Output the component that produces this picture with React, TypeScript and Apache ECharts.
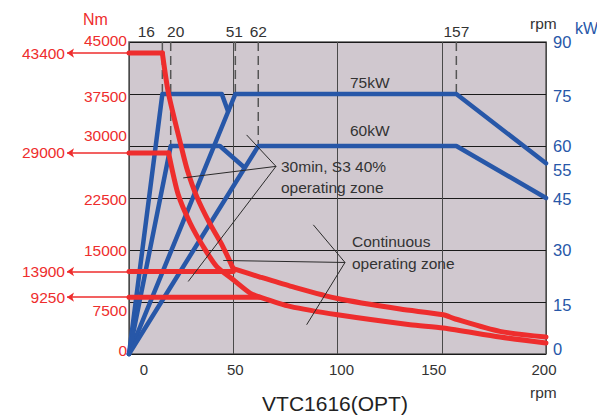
import React, { useEffect, useRef } from "react";
import * as echarts from "echarts";

// ---------- data ----------
const rpmTicks = [0, 50, 100, 150, 200];
const topRpmMarks = [16, 20, 51, 62, 157];
const nmTicks = [0, 7500, 15000, 22500, 30000, 37500, 45000];
const kwTicks = [0, 15, 30, 45, 55, 60, 75, 90];

// torque curves [rpm, Nm]
const s3Torque: number[][] = [
  [0, 43400], [16, 43400], [19, 37500], [25, 30000], [28, 26500],
  [32.5, 22700], [38.6, 18900], [45, 15500], [50, 12300], [62.8, 11100],
  [77.3, 9800], [100, 8000], [130, 6480], [150.7, 5660], [156.5, 5050],
  [177.9, 3260], [200, 2450],
];
const s3Breaks = [16, 50];
const contTorque: number[][] = [
  [0, 29000], [19, 29000], [23.6, 23000], [29.3, 18900],
  [35.6, 15500], [42.1, 12600], [50, 10700], [58, 8800], [62.8, 8200],
  [77.2, 6860], [100, 5650], [134.8, 4222], [150.7, 3746], [177.9, 2450],
  [200, 1585],
];
const contBreaks = [19];
const s3Hold: number[][] = [[0, 11900], [50, 11900]];
const contHold: number[][] = [[0, 8200], [62.8, 8200]];

// power curves [rpm, kW]
const power75a: number[][] = [[0, 0], [16, 75], [44.5, 75], [47.5, 70]];
const power75b: number[][] = [[0, 0], [51, 75], [157, 75], [200, 55]];
const power60a: number[][] = [[0, 0], [20, 60], [43.6, 60], [54.8, 54.1]];
const power60b: number[][] = [[0, 0], [62, 60], [157, 60], [200, 45]];

// dashed speed markers [rpm, kW where the dash ends]
const dashMarks: number[][] = [[16, 75], [20, 60], [51, 75], [62, 60], [157, 75]];

// arrows to the torque labels
const arrowNm = [43400, 29000, 11900, 8200];
const arrowLabels = ["43400", "29000", "13900", "9250"];

// annotation leader lines [rpm, Nm]
const ann30a: number[][] = [[56.4, 31600], [70.5, 27060], [26, 25400]];
const ann30b: number[][] = [[70.5, 27060], [28.4, 10460]];
const annContA: number[][] = [[88.4, 18630], [103.6, 13200], [45.2, 13490]];
const annContB: number[][] = [[103.6, 13200], [85.2, 4220]];

// ---------- styles ----------
const RED = "#ee2d2d";
const BLUE = "#2757a8";
const DARK = "#333333";
const FONT = "Liberation Sans, Arial, Helvetica, sans-serif";

// label offsets (px) to mimic the original placement
const leftShift: Record<number, number> = { 45000: -2, 37500: 2, 30000: -11, 22500: 1, 15000: 0, 7500: 8, 0: -4 };
const rightShift: Record<number, number> = { 90: 0, 75: 2, 60: 0, 55: 7, 45: 1, 30: 0, 15: 3, 0: -5 };
const bottomShift: Record<number, number> = { 0: 15, 50: 2, 100: 4, 150: -8, 200: -2 };
const topShift: Record<number, number> = { 16: -16, 20: 5, 51: -1, 62: 0, 157: 0 };

function vRich(values: number[], shifts: Record<number, number>, base: any) {
  const rich: any = {};
  values.forEach((v) => {
    const d = shifts[v] || 0;
    rich["k" + v] = { ...base, padding: d >= 0 ? [2 * d, 0, 0, 0] : [0, 0, -2 * d, 0] };
  });
  return rich;
}
function hRich(values: number[], shifts: Record<number, number>, base: any) {
  const rich: any = {};
  values.forEach((v) => {
    const d = shifts[v] || 0;
    rich["k" + v] = { ...base, padding: d >= 0 ? [0, 0, 0, 2 * d] : [0, -2 * d, 0, 0] };
  });
  return rich;
}
const fmt = (values: number[]) => (v: number) =>
  values.indexOf(v) >= 0 ? `{k${v}|${v}}` : "";

// split a curve into pieces sharing the break points
function splitAt(data: number[][], breaks: number[]) {
  const parts: number[][][] = [];
  let cur: number[][] = [];
  data.forEach((p) => {
    cur.push(p);
    if (breaks.indexOf(p[0]) >= 0) {
      parts.push(cur);
      cur = [p];
    }
  });
  if (cur.length > 1) parts.push(cur);
  return parts;
}

export default function App() {
  const ref = useRef<HTMLDivElement>(null);

  useEffect(() => {
    if (!ref.current) return;
    const chart = echarts.init(ref.current, undefined, { renderer: "svg" });

    const leftBase = { color: RED, fontSize: 15.5, fontFamily: FONT };
    const rightBase = { color: BLUE, fontSize: 16.5, fontFamily: FONT };
    const bottomBase = { color: DARK, fontSize: 15, fontFamily: FONT };
    const topBase = { color: DARK, fontSize: 15.5, fontFamily: FONT };

    const redLine = (data: number[][], smooth: number | boolean) => ({
      type: "line",
      xAxisIndex: 0,
      yAxisIndex: 0,
      data,
      smooth,
      symbol: "none",
      clip: false,
      lineStyle: { color: RED, width: 5, cap: "round", join: "round" },
      z: 4,
    });
    const blueLine = (data: number[][]) => ({
      type: "line",
      xAxisIndex: 0,
      yAxisIndex: 1,
      data,
      symbol: "none",
      clip: false,
      lineStyle: { color: BLUE, width: 4.5, cap: "round", join: "round" },
      z: 3,
    });
    const annLine = (data: number[][]) => ({
      type: "line",
      xAxisIndex: 0,
      yAxisIndex: 0,
      data,
      symbol: "none",
      lineStyle: { color: "#2a2a2a", width: 1 },
      z: 6,
    });

    const redPieces = [
      ...splitAt(s3Torque, s3Breaks),
      ...splitAt(contTorque, contBreaks),
    ].map((piece) => redLine(piece, piece.length > 2 ? 0.25 : false));

    const option: any = {
      animation: false,
      textStyle: { fontFamily: FONT },
      grid: [
        {
          left: 129, right: 51, top: 42, bottom: 64,
          show: true, backgroundColor: "#d0c8cf",
          borderColor: "#5a5a5a", borderWidth: 1.5,
        },
        { left: 67, width: 62, top: 42, bottom: 64, show: false },
      ],
      xAxis: [
        {
          type: "value", gridIndex: 0, position: "bottom",
          min: 0, max: 200, interval: 50,
          axisLine: { show: false }, axisTick: { show: false },
          splitLine: { show: true, lineStyle: { color: "#4a4a4a", width: 1 } },
          axisLabel: {
            margin: 8, ...bottomBase,
            formatter: fmt(rpmTicks),
            rich: hRich(rpmTicks, bottomShift, bottomBase),
          },
        },
        {
          type: "value", gridIndex: 0, position: "top",
          min: 0, max: 200, interval: 1,
          axisLine: { show: false }, axisTick: { show: false },
          splitLine: { show: false },
          axisLabel: {
            margin: 3, ...topBase,
            formatter: fmt(topRpmMarks),
            rich: hRich(topRpmMarks, topShift, topBase),
          },
        },
        { type: "value", gridIndex: 1, min: 0, max: 1, show: false },
      ],
      yAxis: [
        {
          type: "value", gridIndex: 0, position: "left",
          min: 0, max: 45000, interval: 7500,
          axisLine: { show: false }, axisTick: { show: false },
          splitLine: { show: true, lineStyle: { color: "#1a1a1a", width: 1 } },
          axisLabel: {
            margin: 2, ...leftBase,
            formatter: fmt(nmTicks),
            rich: vRich(nmTicks, leftShift, leftBase),
          },
        },
        {
          type: "value", gridIndex: 0, position: "right",
          min: 0, max: 90, interval: 5,
          axisLine: { show: false }, axisTick: { show: false },
          splitLine: { show: false },
          axisLabel: {
            margin: 7, ...rightBase,
            formatter: fmt(kwTicks),
            rich: vRich(kwTicks, rightShift, rightBase),
          },
        },
        { type: "value", gridIndex: 1, min: 0, max: 45000, show: false },
      ],
      series: [
        ...dashMarks.map(([r, k]) => ({
          type: "line",
          xAxisIndex: 0,
          yAxisIndex: 1,
          data: [[r, 90], [r, k]],
          symbol: "none",
          lineStyle: { color: "#555555", width: 1.5, type: [9, 5] },
          z: 2,
        })),
        blueLine(power75a),
        blueLine(power75b),
        blueLine(power60a),
        blueLine(power60b),
        ...redPieces,
        redLine(s3Hold, false),
        redLine(contHold, false),
        annLine(ann30a),
        annLine(ann30b),
        annLine(annContA),
        annLine(annContB),
        {
          type: "line",
          xAxisIndex: 2,
          yAxisIndex: 2,
          data: arrowNm.map((v) => [1, v]),
          symbol: "none",
          lineStyle: { opacity: 0 },
          markLine: {
            silent: true,
            symbol: ["arrow", "none"],
            symbolSize: [7, 7],
            lineStyle: { color: RED, width: 1.5, type: "solid" },
            label: {
              show: true, position: "start", formatter: "{b}",
              color: RED, fontSize: 15.5, fontFamily: FONT, distance: 2,
            },
            data: arrowNm.map((v, i) => [
              { coord: [0, v], name: arrowLabels[i] },
              { coord: [1, v] },
            ]),
          },
        },
      ],
      graphic: [
        { type: "text", x: 83, y: 19, style: { text: "Nm", fill: RED, fontSize: 16, fontFamily: FONT, verticalAlign: "middle" } },
        { type: "text", x: 530, y: 23, style: { text: "rpm", fill: DARK, fontSize: 15.5, fontFamily: FONT, verticalAlign: "middle" } },
        { type: "text", x: 575, y: 28, style: { text: "kW", fill: BLUE, fontSize: 16, fontFamily: FONT, verticalAlign: "middle" } },
        { type: "text", x: 530, y: 392, style: { text: "rpm", fill: DARK, fontSize: 15.5, fontFamily: FONT, verticalAlign: "middle" } },
        { type: "text", x: 335, y: 403, style: { text: "VTC1616(OPT)", fill: "#222", fontSize: 21, fontFamily: FONT, align: "center", verticalAlign: "middle" } },
        { type: "text", x: 350, y: 82, z: 10, style: { text: "75kW", fill: DARK, fontSize: 15.5, fontFamily: FONT, verticalAlign: "middle" } },
        { type: "text", x: 350, y: 130, z: 10, style: { text: "60kW", fill: DARK, fontSize: 15.5, fontFamily: FONT, verticalAlign: "middle" } },
        { type: "text", x: 281, y: 166, z: 10, style: { text: "30min, S3 40%", fill: DARK, fontSize: 15.5, fontFamily: FONT, verticalAlign: "middle" } },
        { type: "text", x: 281, y: 187, z: 10, style: { text: "operating zone", fill: DARK, fontSize: 15.5, fontFamily: FONT, verticalAlign: "middle" } },
        { type: "text", x: 352, y: 241, z: 10, style: { text: "Continuous", fill: DARK, fontSize: 15.5, fontFamily: FONT, verticalAlign: "middle" } },
        { type: "text", x: 352, y: 263, z: 10, style: { text: "operating zone", fill: DARK, fontSize: 15.5, fontFamily: FONT, verticalAlign: "middle" } },
      ],
    };

    chart.setOption(option);
    return () => chart.dispose();
  }, []);

  return (
    <div
      ref={ref}
      style={{ position: "fixed", left: 0, top: 0, width: 597, height: 418, background: "#ffffff" }}
    />
  );
}
